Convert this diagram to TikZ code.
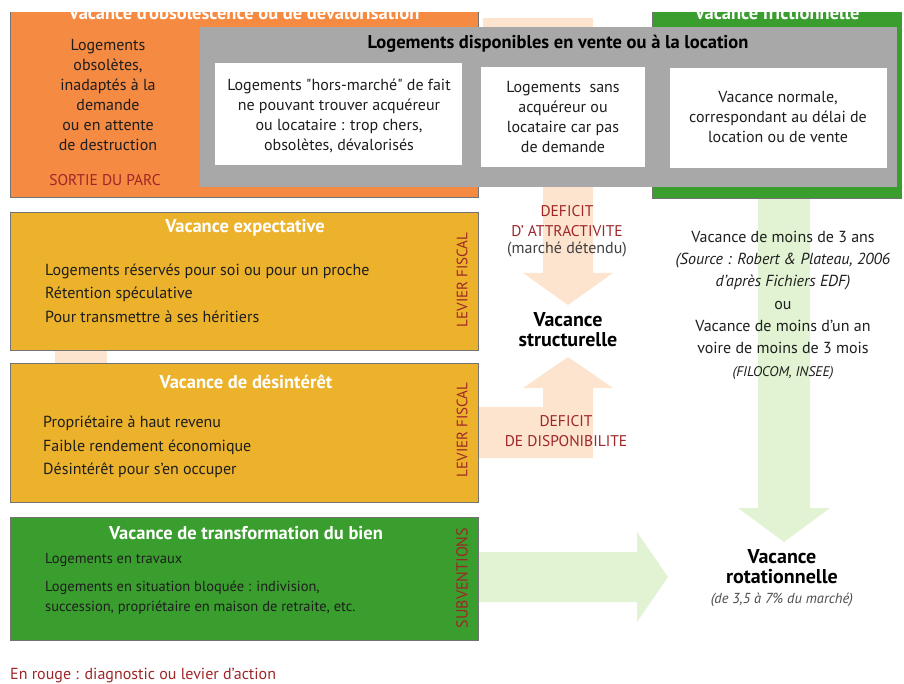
\documentclass[tikz,border=0pt]{standalone}
\usepackage{fontspec}
\setmainfont{PT Sans}
\usepackage{tikz}
\usetikzlibrary{positioning,calc}
\definecolor{orangeB}{RGB}{245,138,66}
\definecolor{jauneB}{RGB}{236,178,44}
\definecolor{vertB}{RGB}{58,158,46}
\definecolor{grisB}{RGB}{168,168,168}
\definecolor{peche}{RGB}{253,228,206}
\definecolor{vertclair}{RGB}{225,243,210}
\definecolor{rougeT}{RGB}{158,38,40}
\definecolor{texteT}{RGB}{30,30,30}
\tikzstyle{cadre}=[draw=black!55, line width=0.8pt]
\tikzstyle{titre}=[text=white, inner sep=0pt, font=\bfseries\fontsize{18.5}{22}\selectfont]
\tikzstyle{corps}=[text=texteT, inner sep=0pt, align=center, font=\fontsize{16}{20}\selectfont]
\tikzstyle{liste}=[text=texteT, inner sep=0pt, align=left, anchor=west, font=\fontsize{16}{23.5}\selectfont]
\tikzstyle{rouge}=[text=rougeT, inner sep=0pt, align=center, font=\fontsize{15.5}{19.5}\selectfont]
\tikzstyle{levier}=[text=rougeT, inner sep=0pt, rotate=90, font=\fontsize{15}{16}\selectfont]
\tikzstyle{gros}=[text=black, inner sep=0pt, align=center, font=\bfseries\fontsize{20}{20}\selectfont]

\begin{document}
\begin{tikzpicture}[x=1pt,y=-1pt]
\useasboundingbox(0,0)rectangle(904,684);
\begin{scope}
\clip(0,13)rectangle(904,684);
% fleches pales
\fill[peche](483,18)--(593,18)--(593,273)--(613,273)--(568,305)--(523,273)--(543,273)--(543,120)--(483,120)--cycle;
\fill[peche](478,407)--(543,407)--(543,388)--(523,388)--(568,357)--(613,388)--(593,388)--(593,458)--(478,458)--cycle;
\fill[peche](55,349)rectangle(107,364);
\fill[vertclair](758,197)--(810,197)--(810,508)--(830,508)--(784,542)--(738,508)--(758,508)--cycle;
\fill[vertclair](478,552)--(637,552)--(637,532)--(668,577)--(637,622)--(637,602)--(478,602)--cycle;
% cadres
\draw[cadre,fill=orangeB](10,-10)rectangle(478,197);
\draw[cadre,fill=vertB](652,-10)rectangle(901,198);
\fill[grisB](200,27)rectangle(897,187);
\fill[white](215,63)rectangle(462,165);
\fill[white](481,67)rectangle(645,167);
\fill[white](670,68)rectangle(887,168);
\draw[cadre,fill=jauneB](10,212)rectangle(478,350);
\draw[cadre,fill=jauneB](10,363)rectangle(478,502);
\draw[cadre,fill=vertB](10,517)rectangle(478,640);
% titres coupes
\node[titre,anchor=base](tobs)at(244,19.5){Vacance d'obsolescence ou de dévalorisation};
\node[titre,anchor=base](tfric)at(777,19.5){Vacance frictionnelle};
\end{scope}
% haut
\node[corps](obs)at(108,95){Logements\\obsolètes,\\inadaptés à la\\demande\\ou en attente\\de destruction};
\node[rouge](sortie)at(105,180){SORTIE DU PARC};
\node[text=black,inner sep=0pt,font=\bfseries\fontsize{18.5}{22}\selectfont](dispo)at(558,44){Logements disponibles en vente ou à la location};
\node[corps](hors)at(339,116){Logements \textquotedbl hors-marché\textquotedbl{} de fait\\ne pouvant trouver acquéreur\\ou locataire :  trop chers,\\obsolètes, dévalorisés};
\node[corps](sans)at(563,117){Logements\ \ sans\\acquéreur ou\\locataire car pas\\de demande};
\node[corps](normale)at(778,117){Vacance normale,\\correspondant au délai de\\location ou de vente};
% boites de gauche
\node[titre](texp)at(245,228){Vacance expectative};
\node[liste](lexp)at(45,293){Logements réservés pour soi ou pour un proche\\Rétention spéculative\\Pour transmettre à ses héritiers};
\node[levier](lev1)at(462,280){LEVIER FISCAL};
\node[titre](tdes)at(246,382){Vacance de désintérêt};
\node[liste](ldes)at(43,447){Propriétaire à haut revenu\\Faible rendement économique\\Désintérêt pour s'en occuper};
\node[levier](lev2)at(462,430){LEVIER FISCAL};
\node[titre](ttra)at(246,533){Vacance de transformation du bien};
\node[liste,font=\fontsize{14.5}{20}\selectfont](ltra1)at(45,560){Logements en travaux};
\node[liste,font=\fontsize{14.5}{20}\selectfont](ltra2)at(45,598){Logements en situation bloquée : indivision,\\succession, propriétaire en maison de retraite, etc.};
\node[levier,font=\fontsize{16}{17}\selectfont](subv)at(462,578){SUBVENTIONS};
% centre
\node[rouge](attr)at(567,221){DEFICIT\\D' ATTRACTIVITE};
\node[corps,text=black!75](detendu)at(567,250){(marché détendu)};
\node[gros](struct)at(568,330){Vacance\\structurelle};
\node[rouge](dispon)at(566,431){DEFICIT\\DE DISPONIBILITE};
% droite
\node[corps,font=\fontsize{16}{22.3}\selectfont](moins)at(783,305){Vacance de moins de 3 ans\\{\itshape(Source : Robert \& Plateau, 2006}\\{\itshape d'après Fichiers EDF)}\\ou\\Vacance de moins d'un an\\voire de moins de 3 mois\\{\itshape\fontsize{14}{15}\selectfont(FILOCOM, INSEE)}};
\node[gros](rota)at(782,567){Vacance\\rotationnelle};
\node[corps,font=\itshape\fontsize{14.5}{16}\selectfont,text=black!70](part)at(782,600){(de 3,5 à 7\% du marché)};
\node[rouge,anchor=west,font=\fontsize{16}{18}\selectfont](legende)at(10,676){En rouge : diagnostic ou levier d'action};
\end{tikzpicture}
\end{document}
